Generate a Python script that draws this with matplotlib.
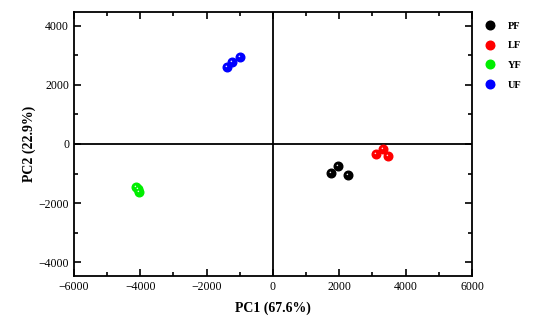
import numpy as np
import matplotlib.pyplot as plt
from matplotlib.path import Path
from matplotlib.legend_handler import HandlerTuple
from matplotlib.ticker import MultipleLocator

plt.rcParams['font.family'] = ['Liberation Serif', 'DejaVu Serif']

# PCA scores
groups = ['PF', 'LF', 'YF', 'UF']
colors = ['#000000', '#ff0000', '#00ee00', '#0000ff']
pf_x = [1750, 1960, 2260]
pf_y = [-995, -745, -1050]
lf_x = [3095, 3325, 3466]
lf_y = [-328, -158, -418]
yf_x = [-4120, -4080, -4030]
yf_y = [-1450, -1530, -1620]
uf_x = [-1380, -1227, -996]
uf_y = [2610, 2790, 2950]
xs = [pf_x, lf_x, yf_x, uf_x]
ys = [pf_y, lf_y, yf_y, uf_y]

# small offset dot used as a shine on each ball
# (a lone moveto at the corner keeps the marker from being rescaled)
c = Path.circle(center=(-0.13, 0.13), radius=0.09)
shine = Path(np.vstack([[0.5, 0.5], c.vertices]),
             np.concatenate([[Path.MOVETO], c.codes]))

fig = plt.figure(figsize=(5.5, 3.34), dpi=100)
ax = fig.add_axes([0.1345, 0.1737, 0.7236, 0.7904])

ax.axhline(0, color='black', lw=1.3, zorder=1)
ax.axvline(0, color='black', lw=1.3, zorder=1)

handles = []
for g, col, x, y in zip(groups, colors, xs, ys):
    ball, = ax.plot(x, y, 'o', color=col, ms=6.2, mec=col, zorder=3)
    dot, = ax.plot(x, y, ls='none', marker=shine, color='white', ms=6.2,
                   mew=0, alpha=0.9, zorder=4)
    handles.append((ball, dot))

ax.set_xlim(-6000, 6000)
ax.set_ylim(-4470, 4470)
ax.xaxis.set_major_locator(MultipleLocator(2000))
ax.xaxis.set_minor_locator(MultipleLocator(1000))
ax.yaxis.set_major_locator(MultipleLocator(2000))
ax.yaxis.set_minor_locator(MultipleLocator(1000))
ax.tick_params(which='both', direction='in', top=True, right=True,
               labelsize=8.5, width=1.2)
ax.tick_params(which='major', length=5)
ax.tick_params(which='minor', length=3)
for s in ax.spines.values():
    s.set_linewidth(1.3)

ax.set_xlabel('PC1 (67.6%)', fontsize=10, fontweight='bold', labelpad=6)
ax.set_ylabel('PC2 (22.9%)', fontsize=10, fontweight='bold', labelpad=2)

ax.legend(handles, groups, handler_map={tuple: HandlerTuple(ndivide=None, pad=0)},
          loc='upper left', bbox_to_anchor=(1.015, 1.0), frameon=False,
          prop={'weight': 'bold', 'size': 7.5}, handlelength=1.2,
          handletextpad=0.8, labelspacing=1.0)

fig.savefig('out.png', dpi=100)
